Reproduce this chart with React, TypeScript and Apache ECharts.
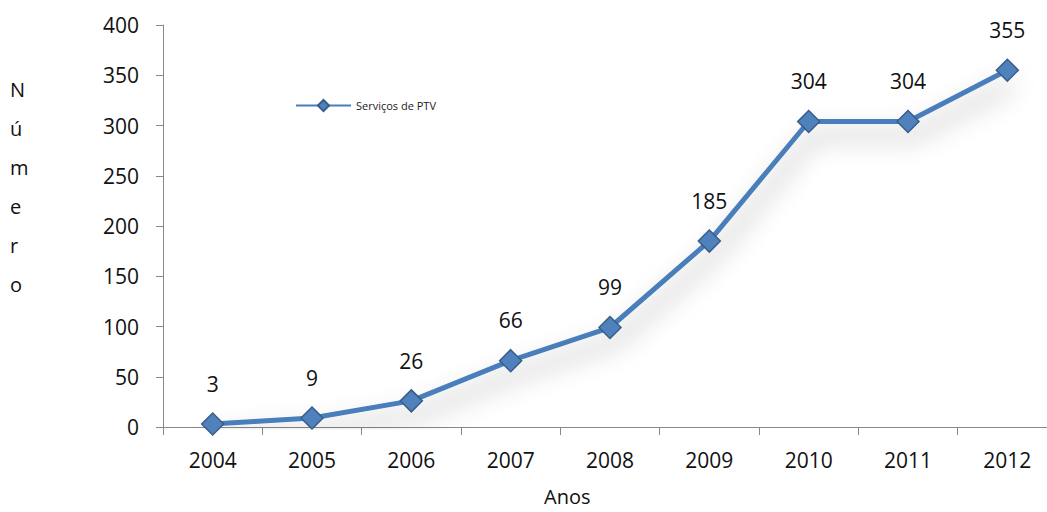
import React, { useEffect, useRef } from "react";
import * as echarts from "echarts";

const years = ["2004", "2005", "2006", "2007", "2008", "2009", "2010", "2011", "2012"];
const servicos = [3, 9, 26, 66, 99, 185, 304, 304, 355];
const seriesName = "Serviços de PTV";
const yTicks = { min: 0, max: 400, interval: 50 };

export default function App() {
  const ref = useRef<HTMLDivElement>(null);
  useEffect(() => {
    const chart = echarts.init(ref.current!, null, { renderer: "svg" });
    const font = "'Open Sans', 'Liberation Sans', sans-serif";
    chart.setOption({
      animation: false,
      backgroundColor: "#ffffff",
      textStyle: { fontFamily: font },
      grid: {
        left: 163,
        right: -10,
        top: 25,
        bottom: 85,
        containLabel: false,
        outerBoundsMode: "none",
      },
      legend: {
        left: 290,
        top: 94,
        itemWidth: 55,
        itemHeight: 14,
        textStyle: { fontSize: 11, color: "#222", fontFamily: font },
        data: [seriesName],
      },
      xAxis: {
        type: "category",
        data: years,
        boundaryGap: true,
        axisLine: { show: true, lineStyle: { color: "#888", width: 1 } },
        axisTick: { show: true, length: 8, alignWithLabel: false, lineStyle: { color: "#888" } },
        axisLabel: { fontSize: 21, color: "#111", margin: 22, fontFamily: font },
      },
      yAxis: {
        type: "value",
        min: yTicks.min,
        max: yTicks.max,
        interval: yTicks.interval,
        splitLine: { show: false },
        axisLine: { show: true, lineStyle: { color: "#888", width: 1 } },
        axisTick: { show: true, length: 7, lineStyle: { color: "#888" } },
        axisLabel: { fontSize: 21, color: "#111", margin: 24, fontFamily: font },
      },
      graphic: [
        {
          type: "text",
          left: 10,
          top: 70,
          style: {
            text: "N\nú\nm\ne\nr\no",
            fontSize: 20,
            lineHeight: 39,
            fill: "#111",
            fontFamily: font,
            align: "center",
            width: 16,
          },
        },
        {
          type: "text",
          left: 544,
          top: 486,
          style: {
            text: "Anos",
            fontSize: 20,
            fill: "#111",
            fontFamily: font,
          },
        },
      ],
      series: [
        {
          name: seriesName,
          type: "line",
          data: servicos,
          symbol: "diamond",
          symbolSize: 22,
          itemStyle: { color: "#4F81BD", borderColor: "#385D8A", borderWidth: 1.5 },
          lineStyle: {
            color: "#4A7EBB",
            width: 5,
            shadowColor: "rgba(0,0,0,0.4)",
            shadowBlur: 26,
            shadowOffsetY: 14,
            shadowOffsetX: 5,
          },
          label: {
            show: true,
            position: "top",
            distance: 18,
            fontSize: 21,
            color: "#111",
            fontFamily: font,
          },
        },
      ],
    });
    return () => chart.dispose();
  }, []);
  return (
    <div
      ref={ref}
      style={{ position: "fixed", left: 0, top: 0, width: 1047, height: 512, overflow: "hidden" }}
    />
  );
}
